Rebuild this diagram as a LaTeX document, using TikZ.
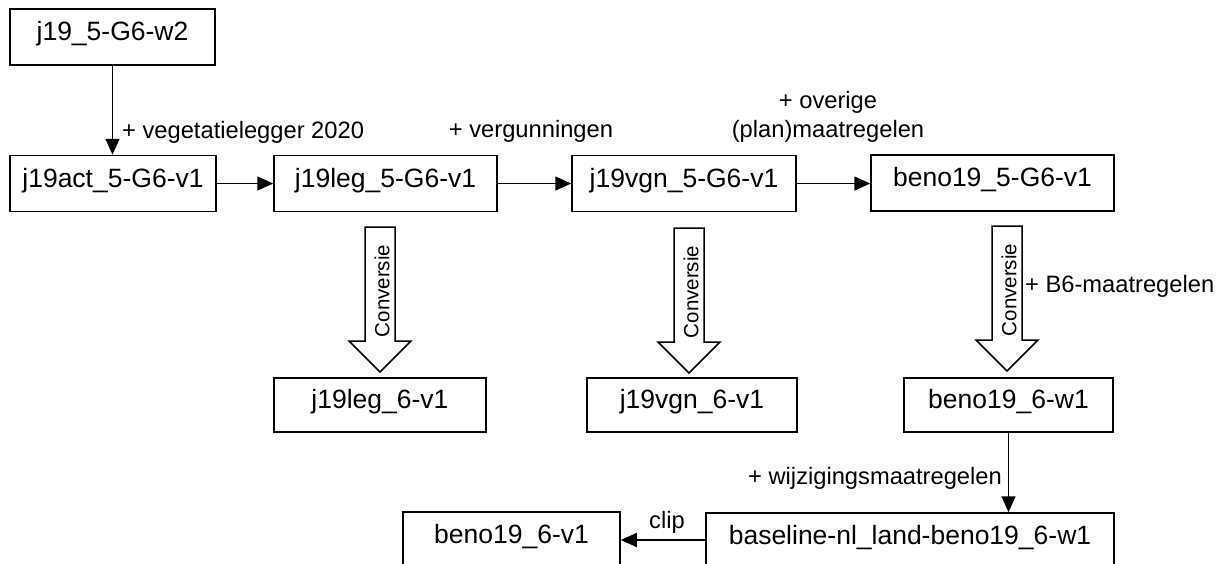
\documentclass[tikz,border=0pt]{standalone}
\usepackage{fontspec}
\setmainfont{Liberation Sans}
\usetikzlibrary{arrows.meta}
\begin{document}
\begin{tikzpicture}[x=1pt,y=-1pt,
 box/.style={draw, line width=1.5pt, inner sep=0pt, minimum height=56pt, font=\fontsize{26.5}{30}\selectfont, text height=0.74em, text depth=0.02em},
 lbl/.style={font=\fontsize{23.7}{29}\selectfont, inner sep=0pt},
 arr/.style={line width=1.5pt, -{Triangle[length=16pt,width=14pt]}},
 blockarr/.style={draw, line width=1.5pt, fill=white, line join=miter},
 conv/.style={font=\fontsize{20.5}{24}\selectfont, rotate=90, inner sep=0pt},
 conversion/.pic={
   \draw[blockarr] (-15,0) -- (15,0) -- (15,114) -- (31,114) -- (0,145) -- (-31,114) -- (-15,114) -- cycle;
   \node[conv] at (2,64) {Conversie};
 }]
\clip (0,0) rectangle (1221,563);
\fill[white] (0,0) rectangle (1221,563);

% boxes
\node[box, minimum width=205pt] (A) at (112.5,37) {j19\_5-G6-w2};
\node[box, minimum width=206pt] (B) at (113,183.5) {j19act\_5-G6-v1};
\node[box, minimum width=223pt] (C) at (385.5,183.5) {j19leg\_5-G6-v1};
\node[box, minimum width=224pt] (D) at (684,183.5) {j19vgn\_5-G6-v1};
\node[box, minimum width=243pt] (E) at (992.5,183) {beno19\_5-G6-v1};
\node[box, minimum width=212pt, minimum height=54pt] (F) at (380,405) {j19leg\_6-v1};
\node[box, minimum width=210pt, minimum height=54pt] (G) at (692,405) {j19vgn\_6-v1};
\node[box, minimum width=209pt, minimum height=54pt] (H) at (1008.5,405) {beno19\_6-w1};
\node[box, minimum width=217pt] (K) at (511.5,540) {beno19\_6-v1};
\node[box, minimum width=408pt] (J) at (910,541) {baseline-nl\_land-beno19\_6-w1};

% connectors
\draw[arr] (A.south) -- (A.south |- B.north);
\draw[arr] (B.east) -- (B.east -| C.west);
\draw[arr] (C.east) -- (C.east -| D.west);
\draw[arr] (D.east) -- (D.east -| E.west);
\draw[arr] (H.south) -- (H.south |- J.north);
\draw[arr] (J.west |- K.east) -- (K.east);

% conversion block arrows
\pic at (380,227) {conversion};
\pic at (689,228) {conversion};
\pic at (1007,226) {conversion};

% labels
\node[lbl, anchor=base west] (l1) at (122,138) {+ vegetatielegger 2020};
\node[lbl, anchor=base] (l2) at (531,137) {+ vergunningen};
\node[lbl, anchor=base] (l3a) at (828,108) {+ overige};
\node[lbl, anchor=base] (l3b) at (828,137) {(plan)maatregelen};
\node[lbl, anchor=base west] (l4) at (1025,292) {+ B6-maatregelen};
\node[lbl, anchor=base east] (l5) at (1002,484) {+ wijzigingsmaatregelen};
\node[lbl, anchor=base] (l6) at (667,528) {clip};
\end{tikzpicture}
\end{document}
